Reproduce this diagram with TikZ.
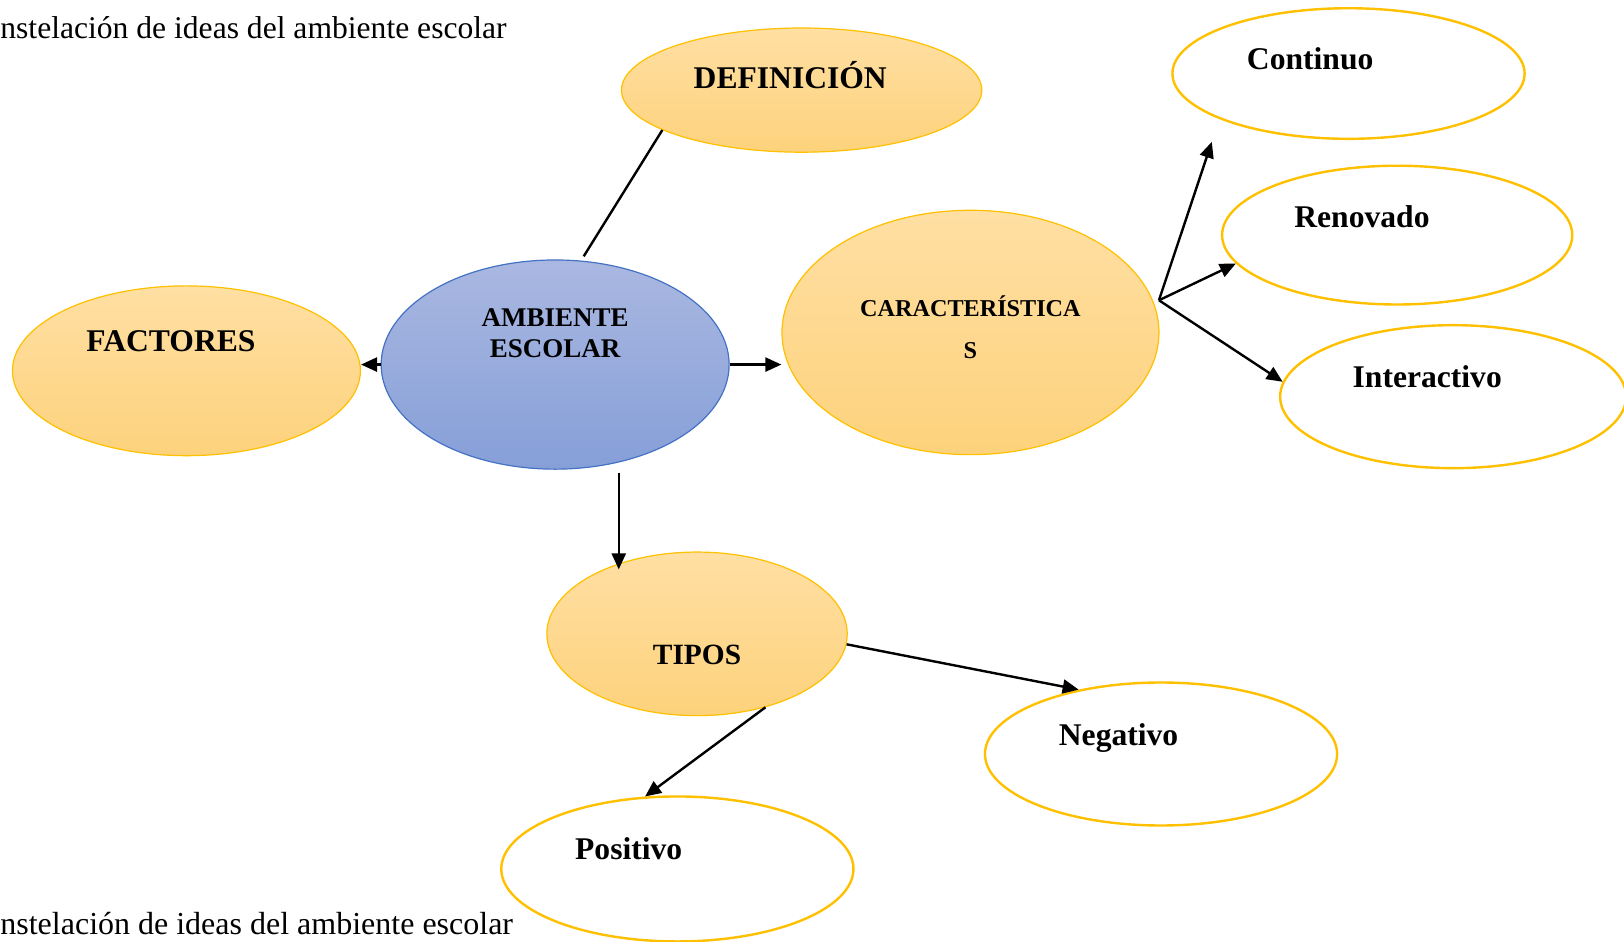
\documentclass[tikz,border=0pt]{standalone}
\usepackage{fontspec}
\setmainfont{Liberation Serif}
\usetikzlibrary{shapes.geometric,arrows.meta}
\definecolor{orT}{RGB}{255,223,163}
\definecolor{orB}{RGB}{253,210,124}
\definecolor{gold}{RGB}{255,192,0}
\definecolor{blT}{RGB}{170,184,225}
\definecolor{blB}{RGB}{134,159,216}
\definecolor{blD}{RGB}{68,114,196}
\begin{document}
\begin{tikzpicture}[x=0.5179pt,y=-0.5179pt,
  oval/.style={ellipse, inner sep=0pt},
  orangeoval/.style={oval, draw=gold, line width=0.6pt, top color=orT, bottom color=orB},
  blueoval/.style={oval, draw=blD, line width=0.6pt, top color=blT, bottom color=blB},
  whiteoval/.style={oval, draw=gold, line width=1.2pt, fill=white},
  lbl/.style={anchor=base, inner sep=0pt, font=\bfseries\fontsize{15.8}{18}\selectfont},
  captxt/.style={anchor=base west, inner sep=0pt, font=\fontsize{15.8}{18}\selectfont},
  conn/.style={line width=1.2pt, black},
  arr/.style={conn, -{Triangle[length=8pt,width=7pt]}}]
\useasboundingbox (0,0) rectangle (1568,908.6);
% ellipses
\node[orangeoval, minimum width=180.2pt, minimum height=62.1pt] (def) at (774,87) {};
\node[whiteoval, minimum width=176.1pt, minimum height=65.3pt] (con) at (1302,71) {};
\node[whiteoval, minimum width=175.1pt, minimum height=69.4pt] (ren) at (1349,227) {};
\node[whiteoval, minimum width=173.0pt, minimum height=71.5pt] (int) at (1403,383) {};
\node[orangeoval, minimum width=188.5pt, minimum height=122.2pt] (car) at (937,321) {};
\node[blueoval, minimum width=174.0pt, minimum height=104.6pt] (amb) at (536,352) {};
\node[orangeoval, minimum width=174.0pt, minimum height=84.9pt] (fac) at (180,358) {};
\node[orangeoval, minimum width=150.2pt, minimum height=81.8pt] (tip) at (673,612) {};
\node[whiteoval, minimum width=176.1pt, minimum height=71.5pt] (neg) at (1121,728) {};
\node[whiteoval, minimum width=176.1pt, minimum height=72.5pt] (pos) at (654,839) {};
% labels
\node[lbl] (tdef) at (763,85) {DEFINICIÓN};
\node[lbl] (tcon) at (1265,67) {Continuo};
\node[lbl] (tren) at (1315,220) {Renovado};
\node[lbl] (tint) at (1378,374) {Interactivo};
\node[lbl, font=\bfseries\fontsize{12.1}{14}\selectfont] (tcar1) at (937,306) {CARACTERÍSTICA};
\node[lbl, font=\bfseries\fontsize{12.1}{14}\selectfont] (tcar2) at (937,346) {S};
\node[lbl, font=\bfseries\fontsize{13.5}{16}\selectfont] (tamb1) at (536,315) {AMBIENTE};
\node[lbl, font=\bfseries\fontsize{13.5}{16}\selectfont] (tamb2) at (536,345) {ESCOLAR};
\node[lbl] (tfac) at (165,339) {FACTORES};
\node[lbl, font=\bfseries\fontsize{14.7}{17}\selectfont] (ttip) at (673,642) {TIPOS};
\node[lbl] (tneg) at (1080,720) {Negativo};
\node[lbl] (tpos) at (607,830) {Positivo};
% captions
\node[captxt] (cap1) at (0,37) {nstelación de ideas del ambiente escolar};
\node[captxt, font=\fontsize{16}{18}\selectfont] (cap2) at (0,902) {nstelación de ideas del ambiente escolar};
% connectors
\draw[conn, shorten >=2.5pt] (def.196) -- (amb.76);
\draw[arr] (amb.west) -- (amb.west -| fac.east);
\draw[arr] (amb.east) -- (amb.east -| car.west);
\draw[arr, shorten <=5pt, shorten >=-3pt] (amb.-57) -- (amb.-57 |- tip.138);
\coordinate (fan) at ([xshift=3pt]car.10);
\coordinate (c1) at (1170,137);
\draw[arr] (fan) -- (c1);
\draw[arr] (fan) -- (ren.190);
\draw[arr] (fan) -- (int.175);
\draw[arr] (tip.-4) -- (neg.142);
\draw[arr] (tip.-47) -- (pos.114);
\end{tikzpicture}
\end{document}
